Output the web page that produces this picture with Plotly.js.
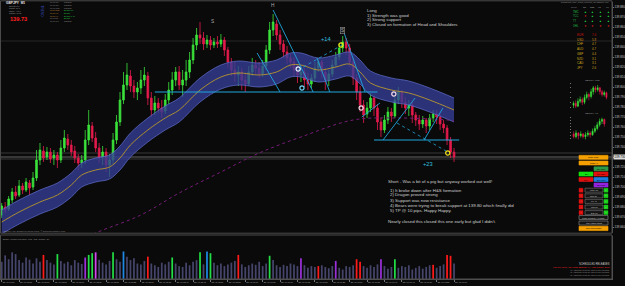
<!DOCTYPE html>
<html><head><meta charset="utf-8">
<script src="https://cdn.plot.ly/plotly-3.0.1.min.js"></script>
<style>html,body{margin:0;padding:0;background:#0a0a0a;overflow:hidden}#chart{width:625px;height:286px}</style>
</head><body><div id="chart"></div>
<script>
// ---------------- DATA (GBPJPY M1, 28 Apr 2017) ----------------
const barStartUTC = [2017, 3, 28, 7, 50];   // first bar time
const open = [139.672,139.680,139.678,139.687,139.695,139.692,139.701,139.697,139.704,139.700,
139.709,139.727,139.736,139.730,139.735,139.729,139.732,139.727,139.739,139.748,
139.742,139.736,139.729,139.724,139.727,139.747,139.761,139.749,139.739,139.730,
139.735,139.722,139.727,139.747,139.765,139.787,139.802,139.811,139.801,139.795,
139.799,139.807,139.811,139.789,139.777,139.784,139.779,139.776,139.787,139.797,
139.807,139.815,139.802,139.807,139.815,139.827,139.842,139.852,139.849,139.843,
139.847,139.842,139.845,139.843,139.847,139.837,139.825,139.817,139.812,139.815,
139.807,139.803,139.815,139.822,139.819,139.813,139.821,139.837,139.857,139.863,
139.852,139.843,139.835,139.829,139.825,139.817,139.812,139.815,139.807,139.803,
139.809,139.819,139.825,139.815,139.807,139.813,139.822,139.830,139.839,139.845,
139.839,139.825,139.809,139.795,139.782,139.773,139.779,139.789,139.779,139.765,
139.757,139.767,139.775,139.771,139.787,139.795,139.785,139.779,139.782,139.772,
139.767,139.763,139.767,139.761,139.769,139.773,139.770,139.763,139.759,139.747,
139.735];
const high = [139.684,139.685,139.691,139.699,139.701,139.707,139.704,139.709,139.707,139.715,
139.737,139.744,139.741,139.740,139.739,139.737,139.735,139.747,139.757,139.753,
139.747,139.741,139.733,139.732,139.757,139.777,139.765,139.755,139.744,139.741,
139.739,139.733,139.754,139.772,139.795,139.815,139.824,139.817,139.807,139.805,
139.817,139.820,139.815,139.795,139.791,139.789,139.787,139.793,139.805,139.815,
139.820,139.821,139.817,139.827,139.835,139.849,139.859,139.865,139.855,139.852,
139.851,139.849,139.851,139.853,139.850,139.840,139.829,139.825,139.821,139.819,
139.813,139.821,139.829,139.827,139.825,139.827,139.842,139.865,139.873,139.867,
139.857,139.847,139.841,139.833,139.830,139.822,139.821,139.819,139.814,139.813,
139.825,139.829,139.827,139.819,139.817,139.827,139.835,139.843,139.851,139.849,
139.843,139.829,139.813,139.801,139.787,139.785,139.794,139.791,139.783,139.769,
139.772,139.780,139.779,139.792,139.800,139.797,139.790,139.787,139.785,139.775,
139.772,139.771,139.769,139.773,139.777,139.777,139.773,139.767,139.762,139.750,
139.739];
const low = [139.669,139.674,139.676,139.684,139.688,139.690,139.693,139.695,139.692,139.697,
139.706,139.722,139.725,139.727,139.724,139.722,139.719,139.724,139.735,139.737,
139.731,139.724,139.717,139.719,139.723,139.742,139.745,139.735,139.724,139.722,
139.715,139.710,139.723,139.743,139.761,139.783,139.797,139.795,139.789,139.787,
139.793,139.801,139.782,139.770,139.772,139.774,139.769,139.773,139.783,139.792,
139.801,139.797,139.790,139.801,139.809,139.823,139.837,139.843,139.837,139.839,
139.837,139.839,139.839,139.840,139.831,139.819,139.811,139.805,139.801,139.797,
139.795,139.801,139.811,139.813,139.809,139.810,139.817,139.833,139.851,139.847,
139.837,139.829,139.823,139.819,139.811,139.804,139.805,139.800,139.797,139.799,
139.805,139.815,139.809,139.797,139.801,139.810,139.819,139.827,139.835,139.832,
139.820,139.802,139.787,139.775,139.764,139.769,139.775,139.771,139.757,139.750,
139.754,139.763,139.765,139.769,139.783,139.779,139.773,139.771,139.764,139.761,
139.757,139.759,139.754,139.757,139.765,139.763,139.757,139.754,139.742,139.729,
139.725];
const close = [139.681,139.677,139.688,139.695,139.691,139.701,139.697,139.705,139.699,139.709,
139.727,139.737,139.729,139.735,139.728,139.732,139.727,139.739,139.749,139.742,
139.735,139.729,139.724,139.727,139.747,139.762,139.749,139.739,139.729,139.735,
139.722,139.727,139.747,139.765,139.787,139.802,139.812,139.801,139.795,139.799,
139.807,139.812,139.789,139.777,139.784,139.779,139.775,139.787,139.797,139.807,
139.815,139.802,139.807,139.815,139.827,139.842,139.852,139.849,139.843,139.847,
139.842,139.845,139.843,139.847,139.837,139.825,139.817,139.812,139.815,139.807,
139.803,139.815,139.822,139.819,139.813,139.821,139.837,139.857,139.865,139.852,
139.843,139.835,139.829,139.825,139.817,139.812,139.815,139.807,139.803,139.809,
139.819,139.825,139.815,139.807,139.813,139.822,139.830,139.839,139.845,139.839,
139.825,139.809,139.795,139.782,139.772,139.779,139.789,139.779,139.765,139.757,
139.767,139.775,139.771,139.787,139.795,139.785,139.779,139.782,139.772,139.767,
139.763,139.767,139.761,139.769,139.773,139.770,139.763,139.759,139.747,139.735,
139.730];
const volume = [40,55,46,62,58,44,38,50,45,36,48,40,56,44,38,34,58,42,36,40,
32,44,38,35,50,56,60,62,45,38,34,42,62,46,40,64,52,44,48,36,
34,42,52,36,32,28,38,34,40,50,36,30,28,38,32,40,44,62,34,64,
60,38,32,36,30,34,38,42,56,34,28,32,36,33,40,30,36,54,44,32,
28,33,30,36,34,30,48,32,26,30,28,30,32,28,25,30,42,26,22,30,
28,32,46,40,30,26,32,28,34,46,30,24,28,46,26,30,28,32,22,26,
30,24,28,32,33,26,30,34,56,54,36];
const volType = ("nnnnnnnnnn"+"nnrnnngnnn"+"nnnnpggmnn"+"nngnnbnnnn"+"nnrnnnnnng"+"nnnnnnngnb"+
  "gnnnnnnnrn"+"nnnnnnngnn"+"nnnnnnpnnn"+"nrnnnnpnnn"+"nnrrnnnnnp"+"nnngnnnnnn"+"nnnnrnnnrr"+"n").split('');

// Dragon band (EMA high / close / low) read at knots
const bandIdx = [0,5,11,16,20,23,27,31,34,37,42,47,51,57,63,68,74,79,83,86,91,96,100,103,106,112,117,123,130];
const bandMid = [139.665,139.675,139.685,139.692,139.702,139.712,139.717,139.720,139.729,139.742,139.757,139.769,139.777,139.797,139.810,139.814,139.812,139.815,139.822,139.822,139.817,139.820,139.823,139.815,139.804,139.797,139.794,139.787,139.777];
const bandUp  = [139.677,139.687,139.697,139.704,139.714,139.724,139.729,139.732,139.741,139.754,139.769,139.781,139.789,139.809,139.822,139.826,139.824,139.827,139.834,139.834,139.829,139.832,139.835,139.827,139.816,139.809,139.806,139.799,139.789];
const bandLow = [139.653,139.663,139.673,139.680,139.690,139.700,139.705,139.708,139.717,139.730,139.745,139.757,139.765,139.785,139.798,139.802,139.800,139.803,139.810,139.810,139.805,139.808,139.811,139.803,139.792,139.785,139.782,139.775,139.765];
// slow trend MA (purple dotted)
const maIdx = [17,27,40,51,63,74,86,101,114,128,130];
const maVal = [139.637,139.654,139.672,139.694,139.715,139.734,139.750,139.767,139.769,139.767,139.766];
// horizontal levels (neckline / support)
const levelPrice = [139.795, 139.747];
const levelFrom = [44, 107];
const levelTo = [108, 131.5];
// trend lines
const tlX0 = [78, 73.4, 90.6, 98.1, 103.5, 109.6, 121.4];
const tlY0 = [139.877, 139.834, 139.829, 139.857, 139.770, 139.747, 139.747];
const tlX1 = [89.5, 80, 94.3, 104.4, 108.7, 118.8, 126.8];
const tlY1 = [139.795, 139.795, 139.795, 139.795, 139.784, 139.789, 139.779];
const dlX0 = [85.2, 113.6], dlY0 = [139.817, 139.764], dlX1 = [97.8, 128.2], dlY1 = [139.842, 139.735];
// pattern markers
const mkIdx = [85.2, 86.3, 97.5, 103.3, 112.7, 128.2];
const mkPrice = [139.818, 139.799, 139.842, 139.779, 139.793, 139.734];
const mkKind = ['w','c','y','p','p','y'];
// chart labels
const lblText = ['S','H','S','+14','+23'];
const lblIdx = [60.5, 78, 98, 93.2, 122.5];
const lblPrice = [139.865, 139.881, 139.856, 139.848, 139.723];
// price lines
const priceLines = [139.734, 139.730, 139.728];
const tpLine = 139.846;
const lastPrice = 139.730;
// mini charts
const m15Open = [139.67,139.69,139.66,139.71,139.73,139.70,139.75,139.78,139.76,139.81,139.85,139.83,139.85,139.81,139.78,139.80];
const m15High = [139.71,139.72,139.74,139.76,139.75,139.78,139.81,139.80,139.84,139.87,139.87,139.88,139.86,139.83,139.82,139.81];
const m15Low  = [139.64,139.64,139.65,139.69,139.67,139.68,139.73,139.72,139.74,139.78,139.80,139.81,139.78,139.76,139.76,139.73];
const m15Close= [139.69,139.66,139.71,139.73,139.70,139.75,139.78,139.76,139.81,139.85,139.83,139.85,139.81,139.78,139.80,139.75];
const h1Open = [139.44,139.35,139.47,139.38,139.44,139.35,139.41,139.47,139.41,139.53,139.62,139.74,139.86,139.92];
const h1High = [139.53,139.56,139.50,139.53,139.47,139.50,139.56,139.53,139.62,139.71,139.83,139.95,139.98,139.95];
const h1Low  = [139.29,139.29,139.26,139.32,139.29,139.26,139.35,139.32,139.38,139.47,139.56,139.68,139.77,139.68];
const h1Close= [139.35,139.47,139.38,139.44,139.35,139.41,139.47,139.41,139.53,139.62,139.74,139.86,139.92,139.77];
// dashboard
const trendRows = ['TMC','TCC','TT','OHL'];
const trendCols = ['M1','M15','H1','H4'];
const trendSig = [[1,1,1,1],[-1,1,1,1],[1,1,1,1],[-1,-1,-1,-1]];
const currencies = ['EUR','USD','CHF','AUD','GBP','NZD','CAD','JPY'];
const strength = [7.4,5.8,4.7,4.7,4.4,3.1,3.1,2.6];
const tfNames = ['M1','M5','M15','M30','H1','H4','D1','W1'];
const tfStatus = ['Ranging','Ranging','Ranging','Bullish (M)','Bullish','Bullish (L-S)','Bullish','Ranging'];
const longNotes = ['Long','1) Strength was good','2) Strong support','3) Closed on formation of Head and Shoulders'];
const shortNotes = ['Short - Was a bit of a pig but anyway worked out well!','1) It broke down after H&S formation','2) Dragon proved strong','3) Support was now resistance','4) Bears were trying to break support at 139.80 which finally did','5) TP @ 10 pips. Happy Happy.','Nearly closed this closed this one early but glad I didn\'t.'];

// ---------------- DRAWING ----------------
const W = 625, H = 286, F = 'Liberation Sans, Arial, sans-serif', BG = '#0a0a0a';
const UP = '#3be33b', DN = '#e41b4c', CY = '#1fa6dc';
const T0 = Date.UTC.apply(null, barStartUTC);
const t = i => T0 + i * 60000;
const px = x => x / W, py = y => 1 - y / H;
const idx = open.map((_, i) => t(i));
const labelTicks = idx.filter((_, i) => i % 5 === 0);

function A(x, y, text, size, color, o) {
  return Object.assign({xref:'paper', yref:'paper', x:px(x), y:py(y), text:text, showarrow:false,
    xanchor:'left', yanchor:'middle', borderpad:0, font:{family:F, size:size, color:color}}, o || {});
}
function R(x0, y0, x1, y1, fill, line, lw) {
  return {type:'rect', xref:'paper', yref:'paper', x0:px(x0), x1:px(x1), y0:py(y1), y1:py(y0),
    fillcolor:fill, line:{color:line || fill, width:lw == null ? 0.6 : lw}, layer:'above'};
}
function segs(x0, y0, x1, y1) {
  const xs = [], ys = [];
  x0.forEach((v, k) => { xs.push(t(v), t(x1[k]), null); ys.push(y0[k], y1[k], null); });
  return {xs, ys};
}

const traces = [];
traces.push({type:'scatter', mode:'lines', x:bandIdx.map(t), y:bandLow, line:{color:'rgba(95,108,205,0.9)', width:0.8, shape:'spline'}, hoverinfo:'skip'});
traces.push({type:'scatter', mode:'lines', x:bandIdx.map(t), y:bandUp, fill:'tonexty', fillcolor:'rgba(52,62,150,0.78)', line:{color:'rgba(95,108,205,0.9)', width:0.8, shape:'spline'}, hoverinfo:'skip'});
traces.push({type:'scatter', mode:'lines', x:bandIdx.map(t), y:bandMid, line:{color:'#b8962c', width:0.9, shape:'spline'}, hoverinfo:'skip'});
traces.push({type:'scatter', mode:'lines', x:maIdx.map(t), y:maVal, line:{color:'#761c78', width:1, dash:'dot', shape:'spline'}, hoverinfo:'skip'});
traces.push({type:'candlestick', x:idx, open:open, high:high, low:low, close:close, whiskerwidth:0,
  increasing:{line:{color:UP, width:0.8}, fillcolor:UP}, decreasing:{line:{color:DN, width:0.8}, fillcolor:DN}, hoverinfo:'skip'});
const lv = segs(levelFrom, levelPrice, levelTo, levelPrice);
traces.push({type:'scatter', mode:'lines', x:lv.xs, y:lv.ys, line:{color:CY, width:1.2}, hoverinfo:'skip'});
const tl = segs(tlX0, tlY0, tlX1, tlY1);
traces.push({type:'scatter', mode:'lines', x:tl.xs, y:tl.ys, line:{color:CY, width:0.9}, hoverinfo:'skip'});
const dl = segs(dlX0, dlY0, dlX1, dlY1);
traces.push({type:'scatter', mode:'lines', x:dl.xs, y:dl.ys, line:{color:CY, width:0.8, dash:'dot'}, hoverinfo:'skip'});
const mkCol = {w:'#e8f6ff', c:'#6fd8f5', y:'#f2e21c', p:'#f6dcea'};
const mkColors = mkKind.map(k => mkCol[k]);
traces.push({type:'scatter', mode:'markers', x:mkIdx.map(t), y:mkPrice,
  marker:{symbol:'circle-open', size:4.2, color:mkColors, line:{width:1.2, color:mkColors}}, hoverinfo:'skip'});
const vCol = {n:'#45456c', r:'#ff1a1a', g:'#22dd44', b:'#1e88e5', p:'#9b30d9', m:'#d545f0'};
traces.push({type:'bar', x:idx, y:volume, yaxis:'y2', width:0.5 * 60000, marker:{color:volType.map(k => vCol[k]), line:{width:0}}, hoverinfo:'skip'});
traces.push({type:'candlestick', xaxis:'x3', yaxis:'y3', x:m15Open.map((_, i) => i), open:m15Open, high:m15High, low:m15Low, close:m15Close, whiskerwidth:0,
  increasing:{line:{color:UP, width:0.6}, fillcolor:UP}, decreasing:{line:{color:DN, width:0.6}, fillcolor:DN}, hoverinfo:'skip'});
traces.push({type:'candlestick', xaxis:'x4', yaxis:'y4', x:h1Open.map((_, i) => i), open:h1Open, high:h1High, low:h1Low, close:h1Close, whiskerwidth:0,
  increasing:{line:{color:UP, width:0.6}, fillcolor:UP}, decreasing:{line:{color:DN, width:0.6}, fillcolor:DN}, hoverinfo:'skip'});

// ---------- annotations ----------
const ann = [];
lblText.forEach((s, k) => {
  const isPips = s.charAt(0) === '+';
  const o = {xref:'x', yref:'y', x:t(lblIdx[k]), y:lblPrice[k], xanchor:'center'};
  if (k === 2) Object.assign(o, {bordercolor:'#8a8a8a', borderwidth:0.6, borderpad:0.4, bgcolor:'#1b1b1b'});
  ann.push(A(0, 0, s, isPips ? 5.6 : 4.8, isPips ? '#2fc0e0' : '#a8a8a8', o));
});
longNotes.forEach((s, k) => ann.push(A(366, 10.7 + k * 4.6, s, 4.4, '#cfcfcf')));
const shortY = [181, 190, 195, 200, 205, 210, 221];
shortNotes.forEach((s, k) => ann.push(A(k > 0 && k < 6 ? 389 : 387, shortY[k], s, 4.4, '#cfcfcf')));
ann.push(A(5, 2.6, 'GBPJPY  M1', 3.2, '#e6e6e6', {font:{family:F, size:3.2, color:'#e6e6e6', weight:700}}));
['Spread: 2.0', 'Range: 36.1', 'Today: +41.9', 'Candle: 00:37'].forEach((s, k) => ann.push(A(8, 5.8 + k * 2.4, s, 2.0, '#9a9a9a')));
ann.push(A(9, 19.5, '139.73', 5.6, '#ff1e1e', {font:{family:F, size:5.6, color:'#ff1e1e', weight:700}}));
ann.push(A(42, 11.5, 'TREND', 3.2, '#3550c0', {xanchor:'center', textangle:90}));
tfNames.forEach((s, k) => {
  const hot = k >= 3 && k <= 5;
  ann.push(A(49, 2.3 + k * 2.67, '00:00 ' + s, 2.0, hot ? '#d08a30' : '#8a8a8a'));
  ann.push(A(63, 2.3 + k * 2.67, tfStatus[k], 2.0, (k >= 3 && k <= 6) ? '#22c040' : '#8a8a8a'));
});
ann.push(A(610, 2.7, 'Dashboard_MTF_Trend_Strength_v2 (GBPJPY,M1)', 2.1, '#8f8f8f', {xanchor:'right'}));
ann.push(A(570, 6.8, 'Trend', 2.2, '#8f8f8f'));
trendCols.forEach((c, j) => ann.push(A(585 + j * 7.7, 6.8, c, 2.2, '#bdbdbd', {xanchor:'center'})));
trendRows.forEach((r, i) => {
  ann.push(A(572, 11.7 + i * 4.67, r, 2.6, '#21c24a'));
  trendSig[i].forEach((v, j) => ann.push(A(585 + j * 7.7, 11.7 + i * 4.67, v > 0 ? '▲' : '▼', 2.8, v > 0 ? '#22dd44' : '#ff2222', {xanchor:'center'})));
});
currencies.forEach((c, k) => {
  const col = k === 0 ? '#c81414' : (k === 1 ? '#d88a1a' : '#c9a21c');
  const yy = 35 + k * 4.7;
  ann.push(A(576, yy, c, 3.0, col));
  ann.push(A(591, yy, strength[k].toFixed(1), 3.0, col));
});
ann.push(A(592, 80, 'GBPJPY M15', 2.4, '#9a9a9a', {xanchor:'center'}));
ann.push(A(592, 114, 'GBPJPY H1', 2.4, '#9a9a9a', {xanchor:'center'}));
ann.push({xref:'paper', yref:'y', x:px(612.6), y:lastPrice, xanchor:'left', yanchor:'middle', showarrow:false, text:lastPrice.toFixed(3),
  bgcolor:'#dcdcdc', borderpad:0.2, font:{family:F, size:3.1, color:'#000'}});
ann.push(A(2, 231.5, 'GBPJPY,M1  Dragon & Trend Lines  © www.forexfactory.com', 2.3, '#8a8a8a'));
ann.push(A(2, 238.8, 'Better Volume Pro(500)  248  105  Climax  89', 2.3, '#9a9a9a'));
ann.push(A(611, 264.3, 'SCHEDULED RELEASES', 2.6, '#cfcfcf', {xanchor:'right'}));
ann.push(A(611, 267.3, '1:30 PM  EUR  CPI Flash Estimate y/y  High Impact  Soon', 2.2, '#ff2020', {xanchor:'right'}));
['(1) Additional news are listed in the calendar', '(2) Additional news are listed in the calendar', '(3) Additional news are listed in the calendar']
  .forEach((s, k) => ann.push(A(611, 270 + k * 2.35, s, 2.0, '#8a8a8a', {xanchor:'right'})));

// ---------- buttons / frames ----------
const shapes = [];
priceLines.forEach((p, k) => shapes.push({type:'line', xref:'paper', yref:'y', x0:0, x1:px(612), y0:p, y1:p,
  line:{color:k === 1 ? '#8c8c8c' : '#4e4e4e', width:0.7}, layer:'below'}));
shapes.push({type:'line', xref:'paper', yref:'y', x0:0, x1:px(612), y0:tpLine, y1:tpLine, line:{color:'#333', width:0.7}, layer:'below'});
shapes.push(R(0.5, 0.8, 612, 233.2, 'rgba(0,0,0,0)', '#4a4a4a', 1));
shapes.push(R(0.5, 235, 612, 279, 'rgba(0,0,0,0)', '#4a4a4a', 1));
const btns = [
  [579, 155.3, 608, 159.3, '#f4a000', 'Close Profit', '#000'],
  [579, 161, 608, 165, '#f4a000', 'Close All', '#000'],
  [594, 166.8, 608, 170.8, '#2c9c48', 'Buy Stop', '#000'],
  [579, 172, 593, 176, '#12e012', 'Buy', '#000'],
  [594, 172, 608, 176, '#e01010', 'Sell Stop', '#000'],
  [579, 177.5, 593, 181.5, '#e01010', 'Sell', '#000'],
  [594, 177.5, 608, 181.5, '#1a7ee0', 'Buy Limit', '#000'],
  [594, 183, 608, 187, '#9424e0', 'Sell Limit', '#000'],
  [579, 215.5, 608, 219.5, '#141414', 'Close Pending / All Trade', '#cfcfcf'],
  [579, 221, 608, 225, '#141414', 'Use Hidden Stops', '#cfcfcf'],
  [579, 226.2, 608, 230.6, '#f4a000', 'Save Screenshot', '#000']
];
btns.forEach(b => {
  shapes.push(R(b[0], b[1], b[2], b[3], b[4], b[4] === '#141414' ? '#8a8a8a' : b[4], 0.6));
  ann.push(A((b[0] + b[2]) / 2, (b[1] + b[3]) / 2, b[5], 2.0, b[6], {xanchor:'center'}));
});
const rowLbl = ['Lots 0.10', 'Stop 20', 'T.P. 40', 'Trail 15', 'B.E. 10'];
rowLbl.forEach((s, k) => {
  const y0 = 188.2 + k * 5.6, y1 = y0 + 4;
  shapes.push(R(579, y0, 583, y1, '#e01010', '#e01010', 0.4));
  shapes.push(R(585, y0, 603, y1, '#141414', '#8a8a8a', 0.5));
  shapes.push(R(604, y0, 608, y1, '#18d018', '#18d018', 0.4));
  ann.push(A(581, (y0 + y1) / 2, '-', 2.4, '#fff', {xanchor:'center'}));
  ann.push(A(594, (y0 + y1) / 2, s, 2.0, '#cfcfcf', {xanchor:'center'}));
  ann.push(A(606, (y0 + y1) / 2, '+', 2.4, '#fff', {xanchor:'center'}));
});

const layout = {
  width:W, height:H, margin:{l:0, r:0, t:0, b:0}, paper_bgcolor:BG, plot_bgcolor:BG,
  showlegend:false, hovermode:false, dragmode:false,
  xaxis:{type:'date', domain:[0, px(612)], range:[t(-0.49), t(175.4)], anchor:'y2', rangeslider:{visible:false},
    showgrid:false, zeroline:false, showline:true, linecolor:'#555', linewidth:1, ticks:'outside', ticklen:2, tickcolor:'#777',
    tickmode:'array', tickvals:labelTicks, tickformat:'%d %b %H:%M', tickangle:0, ticklabelposition:'outside right',
    tickfont:{family:F, size:2.1, color:'#a8a8a8'}, fixedrange:true},
  yaxis:{domain:[py(233), py(2)], range:[139.654, 139.885], side:'right', anchor:'x', showgrid:false, zeroline:false,
    showline:true, linecolor:'#555', ticks:'outside', ticklen:1, tickcolor:'#777', tick0:139.66, dtick:0.01, tickformat:'.3f',
    tickfont:{family:F, size:2.9, color:'#c4c4c4'}, fixedrange:true},
  yaxis2:{domain:[py(279), py(236)], range:[0, 100], side:'right', anchor:'x', showgrid:false, zeroline:false,
    showline:true, linecolor:'#555', showticklabels:false, ticks:'', fixedrange:true},
  xaxis3:{domain:[px(572), px(608)], anchor:'y3', range:[-0.7, 15.7], visible:false, rangeslider:{visible:false}, fixedrange:true},
  yaxis3:{domain:[py(110), py(83)], anchor:'x3', range:[139.62, 139.90], showgrid:false, zeroline:false, showline:false,
    showticklabels:false, ticks:'outside', ticklen:1.5, tickcolor:'#777', dtick:0.05, fixedrange:true},
  xaxis4:{domain:[px(572), px(606)], anchor:'y4', range:[-0.7, 13.7], visible:false, rangeslider:{visible:false}, fixedrange:true},
  yaxis4:{domain:[py(140), py(117)], anchor:'x4', range:[139.24, 140.00], showgrid:false, zeroline:false, showline:false,
    showticklabels:false, ticks:'outside', ticklen:1.5, tickcolor:'#777', dtick:0.1, fixedrange:true},
  shapes:shapes, annotations:ann
};
Plotly.newPlot('chart', traces, layout, {staticPlot:true, displayModeBar:false});
</script>
</body></html>
